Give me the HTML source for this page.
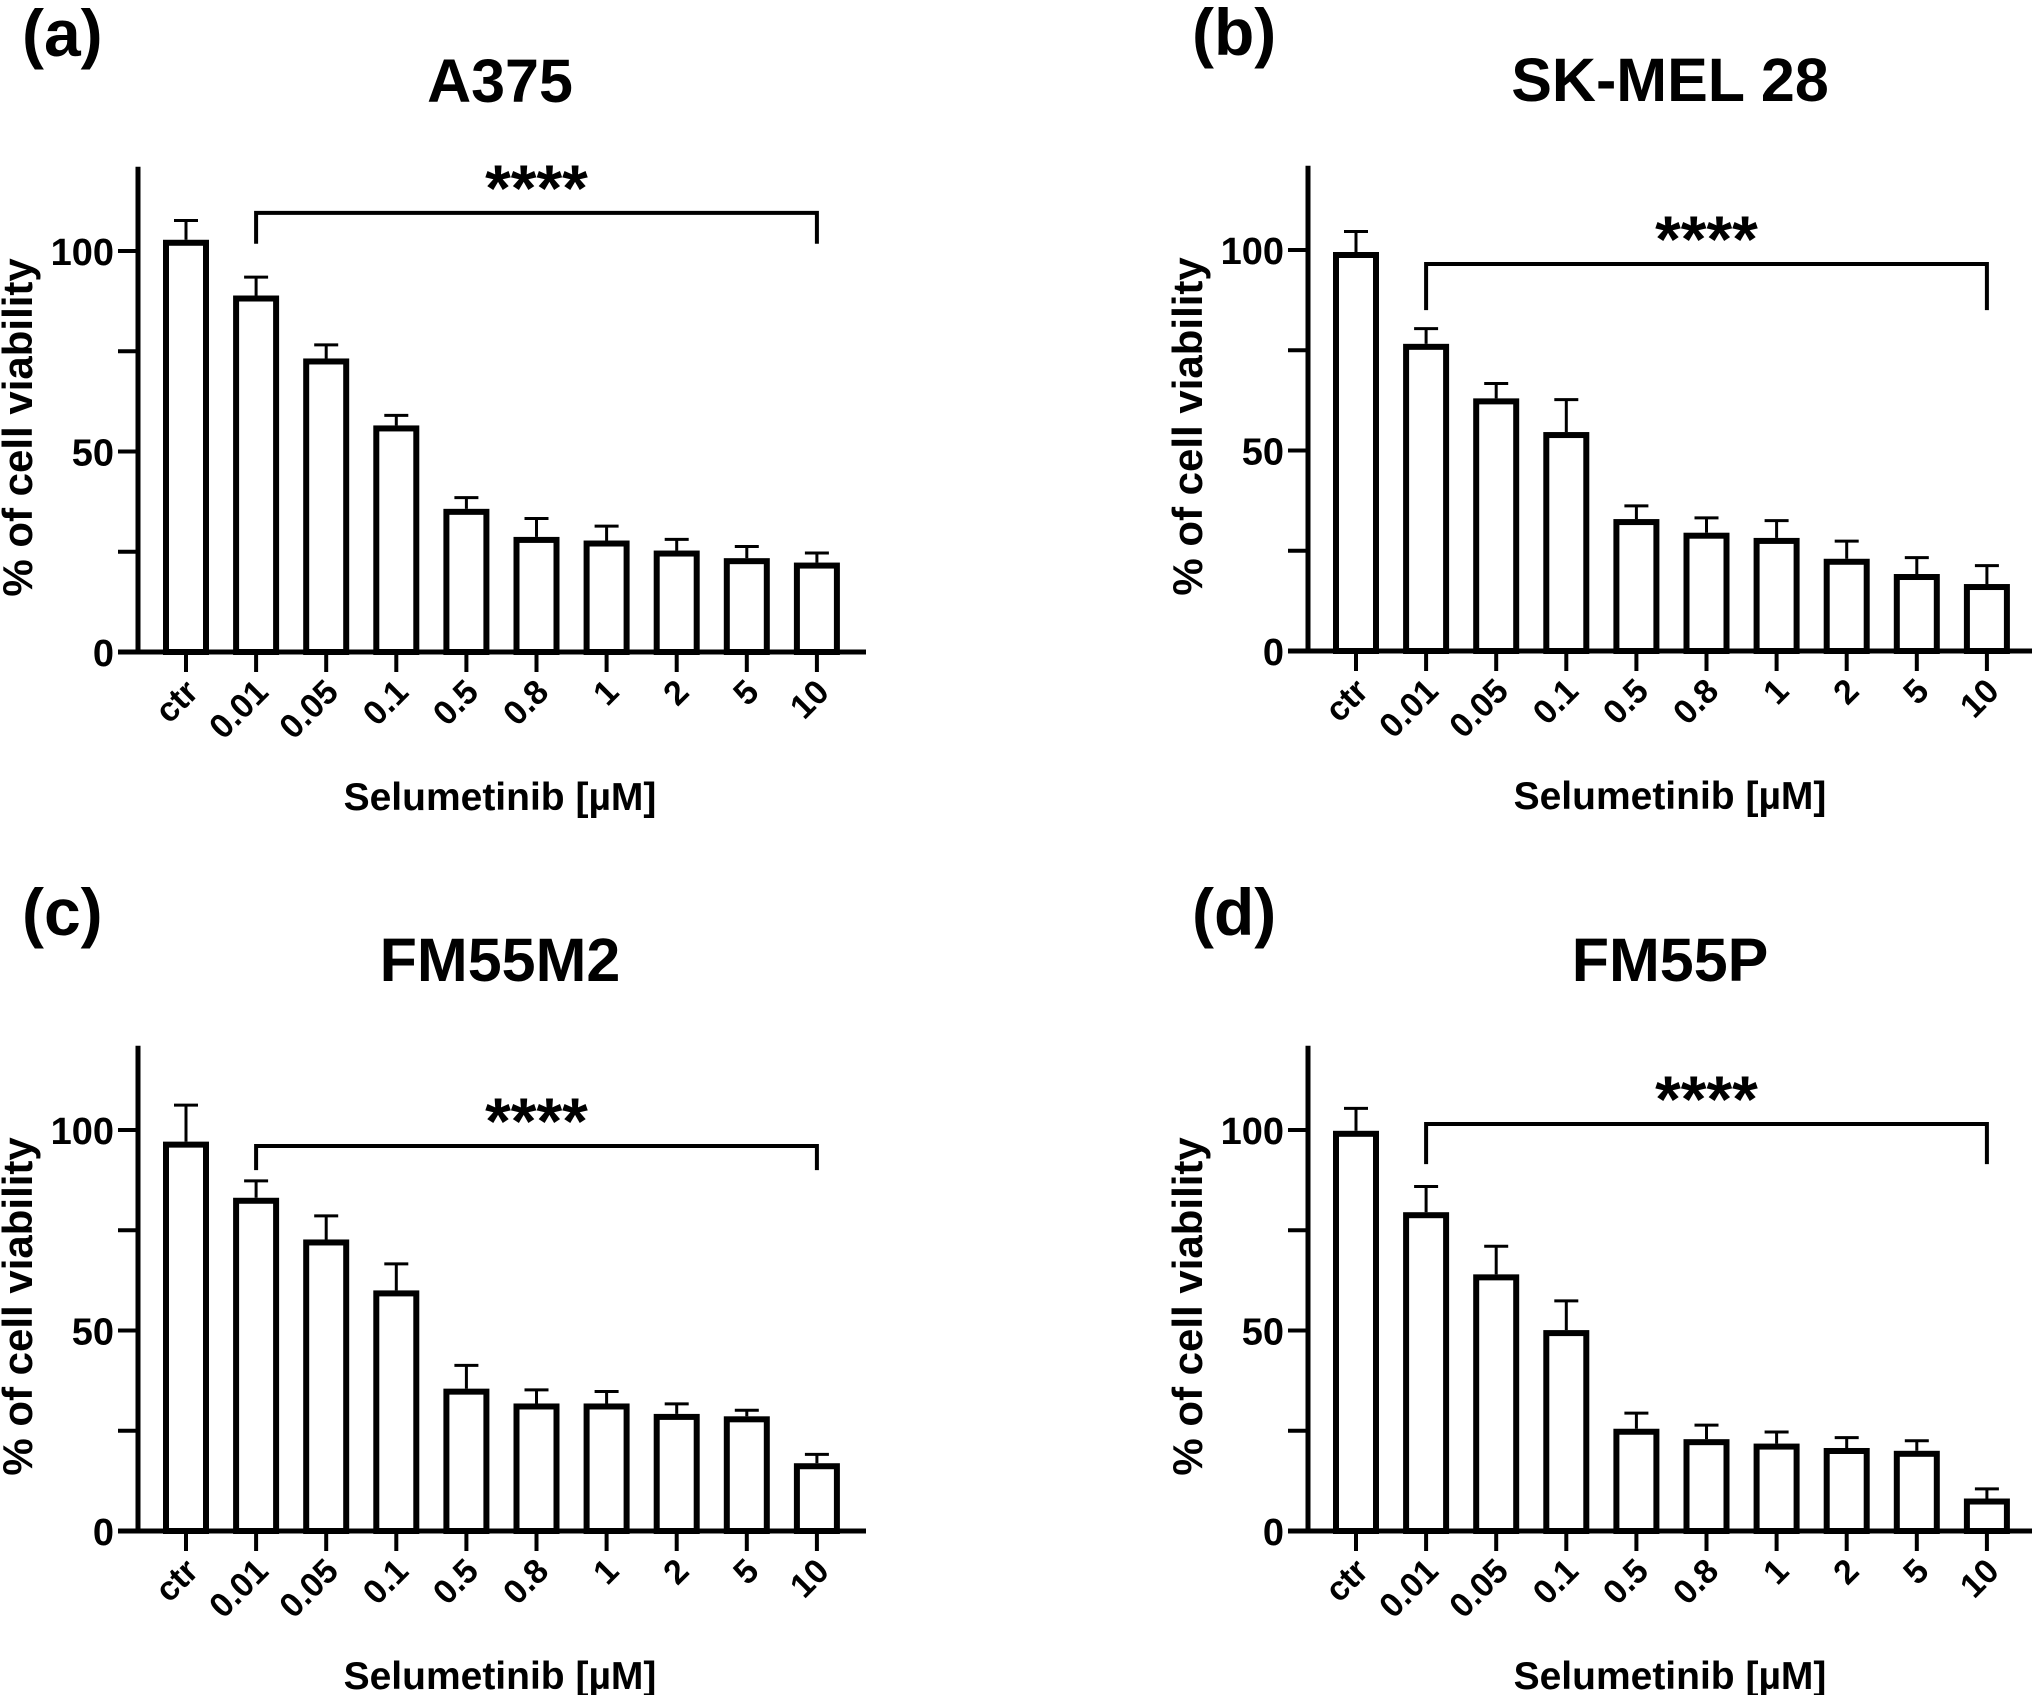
<!DOCTYPE html>
<html><head><meta charset="utf-8">
<style>
html,body{margin:0;padding:0;background:#fff;}
svg{display:block;font-family:"Liberation Sans",Arial,sans-serif;font-weight:bold;}
</style></head>
<body>
<svg id="chart" width="2032" height="1695" viewBox="0 0 2032 1695" xmlns="http://www.w3.org/2000/svg"></svg>
<script>
const categories = ["ctr","0.01","0.05","0.1","0.5","0.8","1","2","5","10"];
const yTicks = [0,50,100];
const panelLabels = ["(a)","(b)","(c)","(d)"];
const panelTitles = ["A375","SK-MEL 28","FM55M2","FM55P"];
const meansA = [102.8,88.9,73.2,56.5,35.7,28.7,27.8,25.3,23.4,22.3];
const errA   = [4.8,4.6,3.4,2.5,2.8,4.6,3.6,2.8,2.9,2.4];
const meansB = [99.5,76.6,63,54.6,32.9,29.5,28.2,23,19.2,16.7];
const errB   = [5.1,3.8,3.7,8.1,3.3,3.7,4.3,4.4,4.1,4.6];
const meansC = [97.1,83.1,72.7,60,35.5,31.8,31.8,29.2,28.6,16.9];
const errC   = [9.1,4.2,5.9,6.6,5.8,3.4,3.0,2.5,1.5,2.2];
const meansD = [99.8,79.5,64,50.1,25.5,22.9,21.8,20.7,20,8.1];
const errD   = [5.6,6.4,7,7.3,3.9,3.5,2.9,2.6,2.5,2.4];
const bracketTop = [109.5,96.5,96,101.5];
const bracketBottom = [101.8,85,90,91.5];

const NS="http://www.w3.org/2000/svg";
const svg=document.getElementById('chart');
function mk(tag,attrs,parent,text){const e=document.createElementNS(NS,tag);for(const k in attrs)e.setAttribute(k,attrs[k]);if(text!==undefined)e.textContent=text;(parent||svg).appendChild(e);return e;}

const panels=[
 {ax:138,zero:652,means:meansA,errs:errA},
 {ax:1308,zero:651,means:meansB,errs:errB},
 {ax:138,zero:1531,means:meansC,errs:errC},
 {ax:1308,zero:1531,means:meansD,errs:errD}
];
const unit=4.01, axLen=728, firstOff=48, step=70.1, barW=40;

panels.forEach((p,pi)=>{
  const g=mk('g',{});
  
  
  const y=v=>p.zero-v*unit;
  const x=i=>p.ax+firstOff+i*step;
  const lbl=mk('text',{x:p.ax-116,y:p.zero-596,'font-size':66},g,panelLabels[pi]);
  
  const t=mk('text',{x:p.ax+362,y:p.zero-550,'font-size':61,'text-anchor':'middle'},g,panelTitles[pi]);
  
  const ya=mk('line',{x1:p.ax,y1:y(121),x2:p.ax,y2:p.zero+2.5,stroke:'#000','stroke-width':5},g);
  
  const xa=mk('line',{x1:p.ax-20,y1:p.zero,x2:p.ax+axLen,y2:p.zero,stroke:'#000','stroke-width':5},g);
  
  [25,75].forEach(v=>mk('line',{x1:p.ax-20,y1:y(v),x2:p.ax,y2:y(v),stroke:'#000','stroke-width':4},g));
  yTicks.forEach(v=>{
    mk('line',{x1:p.ax-20,y1:y(v),x2:p.ax,y2:y(v),stroke:'#000','stroke-width':4},g);
    const tl=mk('text',{x:p.ax-24,y:y(v)+14,'font-size':38,'text-anchor':'end'},g,String(v));
    
  });
  const yt=mk('text',{transform:`translate(${p.ax-106},${y(56)}) rotate(-90)`,'font-size':42,'text-anchor':'middle'},g,'% of cell viability');
  
  const xt=mk('text',{x:p.ax+362,y:p.zero+158,'font-size':39,'text-anchor':'middle'},g,'Selumetinib [µM]');
  
  categories.forEach((c,i)=>{
    const cx=x(i);
    mk('line',{x1:cx,y1:p.zero,x2:cx,y2:p.zero+20,stroke:'#000','stroke-width':4},g);
    const xl=mk('text',{transform:`translate(${cx+14},${p.zero+42}) rotate(-45)`,'font-size':34,'text-anchor':'end'},g,c);
    
    const top=y(p.means[i]);
    const et=y(p.means[i]+p.errs[i]);
    const el=mk('line',{x1:cx,y1:top,x2:cx,y2:et,stroke:'#000','stroke-width':3},g);
    
    mk('line',{x1:cx-12,y1:et,x2:cx+12,y2:et,stroke:'#000','stroke-width':3},g);
    const b=mk('rect',{x:cx-barW/2,y:top+3,width:barW,height:p.zero-top-3,fill:'#fff',stroke:'#000','stroke-width':6},g);
    
  });
  const bt=y(bracketTop[pi]), bb=y(bracketBottom[pi]);
  const br=mk('path',{d:`M${x(1)},${bb} V${bt} H${x(9)} V${bb}`,fill:'none',stroke:'#000','stroke-width':4},g);
  
  const st=mk('text',{x:(x(1)+x(9))/2,y:bt-2,'font-size':66,'text-anchor':'middle'},g,'****');
  
});
</script>
</body></html>
